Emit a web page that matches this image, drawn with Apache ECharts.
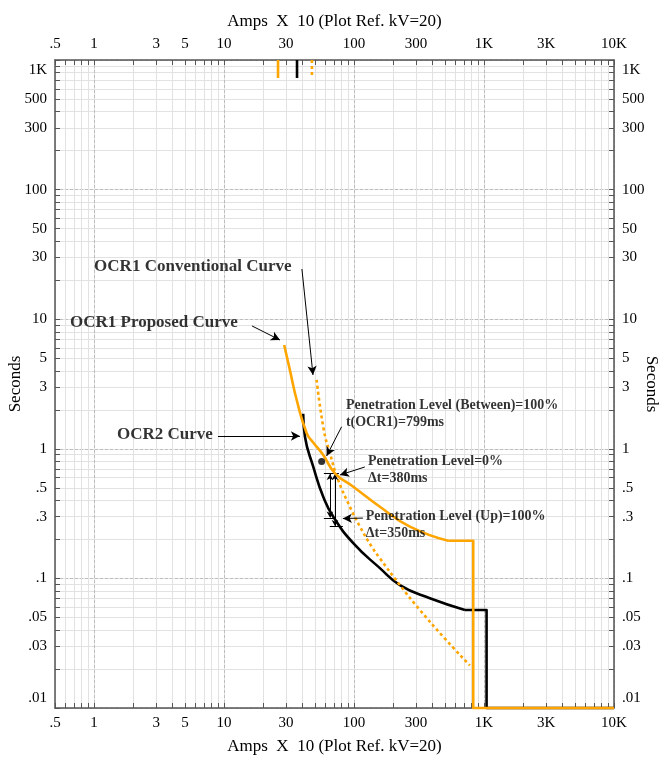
<!DOCTYPE html>
<html>
<head>
<meta charset="utf-8">
<script src="https://cdn.jsdelivr.net/npm/echarts@6/dist/echarts.min.js"></script>
<style>
    html, body { margin: 0; padding: 0; background: #fff; }
    #chart { width: 663px; height: 760px; }
</style>
</head>
<body>
<div id="chart"></div>
<script>
// axis labels
const xLabelValues = [0.5, 1, 3, 5, 10, 30, 100, 300, 1000, 3000, 10000];
const xLabelTexts = ['.5', '1', '3', '5', '10', '30', '100', '300', '1K', '3K', '10K'];
const yLabelValues = [0.01, 0.03, 0.05, 0.1, 0.3, 0.5, 1, 3, 5, 10, 30, 50, 100, 300, 500, 1000];
const yLabelTexts = ['.01', '.03', '.05', '.1', '.3', '.5', '1', '3', '5', '10', '30', '50', '100', '300', '500', '1K'];

// OCR1 proposed curve (orange solid): inverse-time part, then definite-time step
const proposedAmps = [29.0, 32.0, 36.2, 43.2, 48.5, 57.9, 71.3, 98.6, 158, 269, 530];
const proposedSec = [6.32, 4.1, 2.38, 1.32, 1.12, 0.896, 0.647, 0.510, 0.357, 0.251, 0.195];
const proposedStepAmps = [530, 826, 826, 10000];
const proposedStepSec = [0.195, 0.195, 0.01, 0.01];
const proposedTopAmps = [26, 26];
const proposedTopSec = [1000, 726];

// OCR1 conventional curve (orange dotted)
const conventionalAmps = [51.5, 58.5, 65.2, 75.5, 92.9, 111, 136.5, 158, 225, 321, 485, 778];
const conventionalSec = [3.40, 1.40, 0.923, 0.574, 0.357, 0.251, 0.176, 0.143, 0.0889, 0.0571, 0.0355, 0.0213];
const conventionalTopAmps = [47.4, 47.4];
const conventionalTopSec = [1000, 726];

// OCR2 curve (black)
const ocr2Amps = [40.6, 41.9, 48.5, 57.9, 69.2, 98.6, 158, 225, 383, 713];
const ocr2Sec = [1.86, 1.24, 0.728, 0.427, 0.299, 0.187, 0.120, 0.0889, 0.0702, 0.0571];
const ocr2StepAmps = [713, 1046, 1046, 10000];
const ocr2StepSec = [0.0571, 0.0571, 0.01, 0.01];
const ocr2TopAmps = [36.4, 36.4];
const ocr2TopSec = [1000, 726];

// operating point t(OCR1)
const pointAmps = [56.3];
const pointSec = [0.799];

function pairs(xs, ys) {
    return xs.map((x, i) => [x, ys[i]]);
}

function decadeSteps(from, to) {
    let out = [];
    for (let d = Math.pow(10, Math.floor(Math.log10(from))); d <= to; d *= 10) {
        for (let k = 1; k <= 9; k++) {
            let v = +(d * k).toPrecision(6);
            if (v >= from && v <= to) out.push(v);
        }
    }
    return out;
}

function decades(from, to) {
    let out = [];
    for (let d = Math.pow(10, Math.ceil(Math.log10(from))); d <= to; d *= 10) {
        out.push(+d.toPrecision(6));
    }
    return out;
}

function labelOf(values, texts, v) {
    let best = 0;
    values.forEach((item, idx) => {
        if (Math.abs(Math.log10(item) - Math.log10(v)) < Math.abs(Math.log10(values[best]) - Math.log10(v))) best = idx;
    });
    return texts[best];
}

const xTicks = decadeSteps(0.5, 10000);
const yTicks = decadeSteps(0.01, 1000);
const font = 'Liberation Serif';
const axisName = 'Amps  X  10 (Plot Ref. kV=20)';

function xAxisCfg(position) {
    return {
        type: 'log', logBase: 10, min: 0.5, max: 10000, position: position,
        name: axisName, nameLocation: 'middle', nameGap: 30,
        nameTextStyle: { fontFamily: font, fontSize: 17, color: '#000' },
        axisLine: { show: true, lineStyle: { color: '#555', width: 1.5 } },
        axisTick: { show: true, inside: true, length: 5, customValues: xTicks, lineStyle: { color: '#555' } },
        axisLabel: {
            customValues: xLabelValues, margin: 8,
            fontFamily: font, fontSize: 15, color: '#000',
            formatter: v => labelOf(xLabelValues, xLabelTexts, v)
        },
        splitLine: { show: position === 'bottom', lineStyle: { color: '#e2e2e2', width: 1 } }
    };
}

function yAxisCfg(position) {
    return {
        type: 'log', logBase: 10, min: 0.01, max: 1000, position: position,
        name: 'Seconds', nameLocation: 'middle', nameMoveOverlap: false,
        nameGap: position === 'left' ? 31 : 29,
        nameRotate: position === 'left' ? 90 : -90,
        nameTextStyle: { fontFamily: font, fontSize: 17, color: '#000' },
        axisLine: { show: true, lineStyle: { color: '#555', width: 1.5 } },
        axisTick: { show: true, inside: true, length: 5, customValues: yTicks, lineStyle: { color: '#555' } },
        axisLabel: {
            customValues: yLabelValues, margin: 8,
            fontFamily: font, fontSize: 15, color: '#000',
            formatter: v => {
                let t = labelOf(yLabelValues, yLabelTexts, v);
                if (t === '1K') return '{top|' + t + '}';
                if (t === '.01') return '{bot|' + t + '}';
                return t;
            },
            rich: {
                top: { fontFamily: font, fontSize: 15, color: '#000', padding: [20, 0, 0, 0] },
                bot: { fontFamily: font, fontSize: 15, color: '#000', padding: [0, 0, 20, 0] }
            }
        },
        splitLine: { show: position === 'left', lineStyle: { color: '#e2e2e2', width: 1 } }
    };
}

const majorX = {
    type: 'log', logBase: 10, min: 0.5, max: 10000, position: 'bottom',
    axisLine: { show: false }, axisLabel: { show: false },
    axisTick: { show: false, customValues: decades(0.5, 10000) },
    splitLine: { show: true, lineStyle: { color: '#bdbdbd', type: [3, 2], width: 1 } }
};
const majorY = {
    type: 'log', logBase: 10, min: 0.01, max: 1000, position: 'left',
    axisLine: { show: false }, axisLabel: { show: false },
    axisTick: { show: false, customValues: decades(0.01, 1000) },
    splitLine: { show: true, lineStyle: { color: '#bdbdbd', type: [3, 2], width: 1 } }
};

const orange = '#FFA500';

function curve(name, data, color, dotted, z, smooth) {
    return {
        name: name, type: 'line', data: data, showSymbol: false, symbol: 'none',
        clip: false, z: z, silent: true, smooth: smooth || false,
        lineStyle: { color: color, width: 2.6, type: dotted ? [3, 3] : 'solid', cap: 'butt', join: 'round' }
    };
}

function note(x, y, text, size) {
    return {
        value: [x, y],
        label: {
            show: true, position: 'right', distance: 0, formatter: text,
            fontFamily: font, fontWeight: 'bold', fontSize: size, color: '#000', lineHeight: 17
        }
    };
}

function arrow(x1, y1, x2, y2) {
    return [{ coord: [x1, y1] }, { coord: [x2, y2] }];
}

let chart = echarts.init(document.getElementById('chart'));
let option = {
    animation: false,
    backgroundColor: '#fff',
    grid: { left: 55, right: 49, top: 60, bottom: 52, containLabel: false, outerBoundsMode: 'none' },
    xAxis: [xAxisCfg('bottom'), xAxisCfg('top'), majorX],
    yAxis: [yAxisCfg('left'), yAxisCfg('right'), majorY],
    series: [
        curve('OCR2', pairs(ocr2Amps, ocr2Sec), '#000', false, 3, 0.5),
        curve('OCR2 step', pairs(ocr2StepAmps, ocr2StepSec), '#000', false, 3),
        curve('OCR2 top', pairs(ocr2TopAmps, ocr2TopSec), '#000', false, 3),
        curve('OCR1 Conventional', pairs(conventionalAmps, conventionalSec), orange, true, 4, 0.5),
        curve('OCR1 Conventional top', pairs(conventionalTopAmps, conventionalTopSec), orange, true, 4),
        curve('OCR1 Proposed', pairs(proposedAmps, proposedSec), orange, false, 5, 0.5),
        curve('OCR1 Proposed step', pairs(proposedStepAmps, proposedStepSec), orange, false, 5),
        curve('OCR1 Proposed top', pairs(proposedTopAmps, proposedTopSec), orange, false, 5),
        {
            name: 't(OCR1)', type: 'scatter', z: 6, silent: true,
            data: pairs(pointAmps, pointSec), symbolSize: 7,
            itemStyle: { color: '#000' },
            markLine: {
                silent: true, symbol: ['none', 'arrow'], symbolSize: [7, 9],
                label: { show: false },
                lineStyle: { color: '#000', width: 1, type: 'solid' },
                data: [
                    arrow(39.7, 24.4, 48.3, 3.71),
                    arrow(16.4, 8.87, 26.9, 6.91),
                    arrow(8.97, 1.256, 38.3, 1.256),
                    arrow(80.2, 1.48, 61.5, 0.88),
                    arrow(121, 0.724, 77.9, 0.628),
                    arrow(117, 0.292, 82, 0.29)
                ]
            }
        },
        {
            name: 'delta t', type: 'line', data: [], z: 6, silent: true,
            markLine: {
                silent: true, symbol: ['none', 'none'],
                label: { show: false },
                lineStyle: { color: '#000', width: 1, type: 'solid' },
                data: [
                    arrow(58.6, 0.647, 76.5, 0.647),
                    arrow(58.6, 0.292, 70, 0.292),
                    arrow(65, 0.251, 82, 0.251),
                    [{ coord: [65.2, 0.64], symbol: 'arrow', symbolSize: [5, 6] }, { coord: [65.2, 0.295], symbol: 'arrow', symbolSize: [5, 6] }],
                    [{ coord: [71.3, 0.64], symbol: 'arrow', symbolSize: [5, 6] }, { coord: [71.3, 0.254], symbol: 'arrow', symbolSize: [5, 6] }]
                ]
            }
        },
        {
            name: 'notes', type: 'scatter', symbolSize: 0, z: 7, silent: true,
            data: [
                note(1.0, 25.3, 'OCR1 Conventional Curve', 17),
                note(0.652, 9.35, 'OCR1 Proposed Curve', 17),
                note(1.5, 1.28, 'OCR2 Curve', 17),
                note(86.5, 1.87, 'Penetration Level (Between)=100%\nt(OCR1)=799ms', 14),
                note(128, 0.692, 'Penetration Level=0%\nΔt=380ms', 14),
                note(123, 0.261, 'Penetration Level (Up)=100%\nΔt=350ms', 14)
            ]
        }
    ]
};
chart.setOption(option, true);
</script>
</body>
</html>
